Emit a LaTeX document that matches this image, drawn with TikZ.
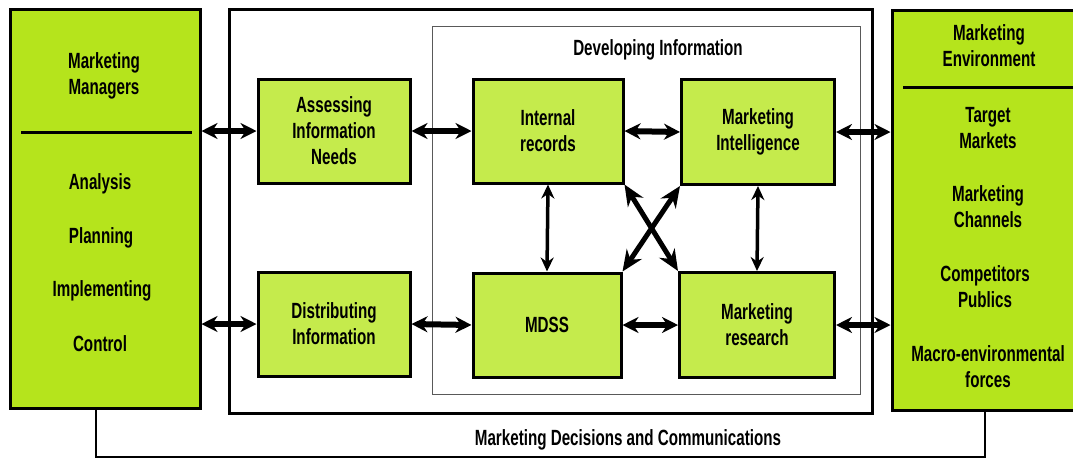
\documentclass[tikz,border=0pt]{standalone}
\usepackage{fontspec}
\setmainfont{Liberation Sans}[FakeStretch=0.69]
\usetikzlibrary{arrows.meta}
\definecolor{limedark}{RGB}{181,228,28}
\definecolor{limelight}{RGB}{197,235,76}
\tikzset{
  box/.style={draw=black, line width=3pt, fill=limelight, align=center,
    minimum width=152pt, minimum height=104pt, inner sep=0pt},
  sidebox/.style={draw=black, line width=3pt, fill=limedark,
    minimum width=190pt, minimum height=399pt, inner sep=0pt},
  lbl/.style={align=center, inner sep=0pt},
  dbl/.style={line width=6pt, {Stealth[length=16pt,width=16pt]}-{Stealth[length=16pt,width=16pt]}},
  thindbl/.style={line width=3.5pt, {Stealth[length=14pt,width=13pt]}-{Stealth[length=14pt,width=13pt]}},
  crossdbl/.style={line width=5pt, {Stealth[length=21pt,width=18pt]}-{Stealth[length=21pt,width=18pt]}}
}
\begin{document}
\begin{tikzpicture}[x=1pt, y=-1pt, font=\bfseries\fontsize{22}{26}\selectfont]
  \useasboundingbox (0,0) rectangle (1073,459);
  \fill[white] (0,0) rectangle (1073,459);
  % frames
  \draw[line width=3pt] (229,9) rectangle (872,413);
  \draw[gray!70!black, line width=1pt] (432,26) rectangle (860,394);
  \draw
    (105,208.5) node[sidebox] (mgr){}
    (986,210) node[sidebox, minimum width=188pt, minimum height=400pt] (env){}
    (334,131) node[box] (ain){Assessing\\Information\\Needs}
    (334,324) node[box] (dist){Distributing\\Information}
    (548,131) node[box, minimum width=150pt] (ir){Internal\\records}
    (758,132) node[box, minimum width=153pt, minimum height=105pt] (mi){Marketing\\Intelligence}
    (547,325) node[box, minimum width=148pt] (mdss){MDSS}
    (757,325) node[box, minimum width=155pt, minimum height=105pt] (mr){Marketing\\research};
  % side texts
  \draw[line width=3pt] (21,132) -- (192,132);
  \draw[line width=3pt] (903,87) -- (1080,87);
  \draw
    (104,76) node[lbl] (mgrt){Marketing\\Managers}
    (100,184) node[lbl] (ana){Analysis}
    (101,238) node[lbl] (pla){Planning}
    (102,291) node[lbl] (imp){Implementing}
    (100,344) node[lbl] (con){Control}
    (989,46) node[lbl] (envt){Marketing\\Environment}
    (988,128) node[lbl] (tm){Target\\Markets}
    (988,207) node[lbl] (mc){Marketing\\Channels}
    (985,287) node[lbl] (cp){Competitors\\Publics}
    (988,367) node[lbl] (mef){Macro-environmental\\forces}
    (658,50) node[lbl] (devt){Developing Information};
  % feedback line
  \coordinate (fbl) at (96,457);
  \coordinate (fbr) at (985,457);
  \draw[line width=2pt] (mgr.south -| fbl) -- (fbl) -- (fbr) -- (env.south -| fbr);
  \node[lbl] (fbt) at (628,440) {Marketing Decisions and Communications};
  \begin{scope}[dbl]
    \draw (ain.west -| mgr.east) to (ain.west);
    \draw (dist.west -| mgr.east) to (dist.west);
    \draw (ain.east) to (ir.west);
    \draw (dist.east) to (mdss.west);
    \draw (ir.east) to (mi.west);
    \draw (mdss.east) to (mr.west);
    \draw (mi.east) to (mi.east -| env.west);
    \draw (mr.east) to (mr.east -| env.west);
  \end{scope}
  \begin{scope}[thindbl]
    \draw (ir.south) to (mdss.north);
    \draw (mi.south) to (mr.north);
  \end{scope}
  \begin{scope}[crossdbl]
    \draw (ir.south east) to (mr.north west);
    \draw (mdss.north east) to (mi.south west);
  \end{scope}
\end{tikzpicture}
\end{document}
